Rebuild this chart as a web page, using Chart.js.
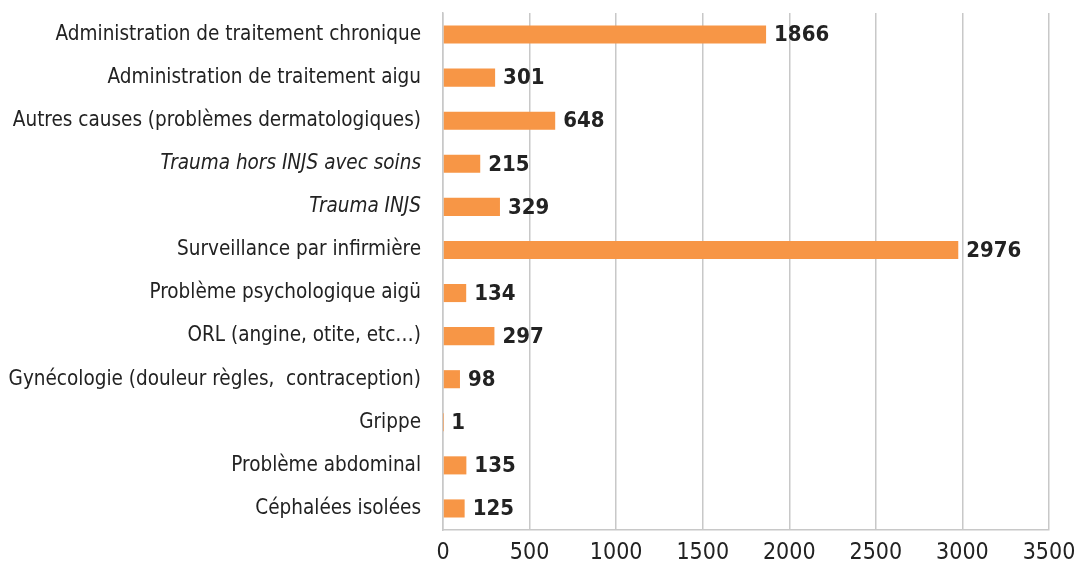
<!DOCTYPE html>
<html>
<head>
<meta charset="utf-8">
<script src="https://cdn.jsdelivr.net/npm/chart.js@4/dist/chart.umd.min.js"></script>
<style>
  html, body { margin: 0; padding: 0; background: #fff; }
  #wrap { width: 1080px; height: 565px; position: relative; }
</style>
</head>
<body>
<div id="wrap"><canvas id="bars"></canvas></div>
<script>
const categories = [
  'Administration de traitement chronique',
  'Administration de traitement aigu',
  'Autres causes (problèmes dermatologiques)',
  'Trauma hors INJS avec soins',
  'Trauma INJS',
  'Surveillance par infirmière',
  'Problème psychologique aigü',
  'ORL (angine, otite, etc…)',
  'Gynécologie (douleur règles,  contraception)',
  'Grippe',
  'Problème abdominal',
  'Céphalées isolées'
];
const counts = [1866, 301, 648, 215, 329, 2976, 134, 297, 98, 1, 135, 125];
const italicRows = [3, 4];
const xTicks = [0, 500, 1000, 1500, 2000, 2500, 3000, 3500];

const FONT = "'Liberation Sans Narrow', 'DejaVu Sans Condensed', sans-serif";

// value labels at the end of each bar
const valueLabels = {
  id: 'valueLabels',
  afterDatasetsDraw(chart) {
    const ctx = chart.ctx;
    const meta = chart.getDatasetMeta(0);
    ctx.save();
    ctx.font = 'bold 22px ' + FONT;
    ctx.fillStyle = '#222';
    ctx.textAlign = 'left';
    ctx.textBaseline = 'middle';
    meta.data.forEach((bar, i) => {
      ctx.fillText(String(counts[i]), bar.x + 8, bar.y + 1);
    });
    ctx.restore();
  }
};

var ctx = document.getElementById('bars').getContext('2d');
var chart = new Chart(ctx, {
  type: 'bar',
  data: {
    labels: categories,
    datasets: [{
      data: counts,
      backgroundColor: '#F79646',
      borderWidth: 0,
      barPercentage: 0.42,
      categoryPercentage: 1
    }]
  },
  options: {
    indexAxis: 'y',
    responsive: true,
    maintainAspectRatio: false,
    animation: false,
    layout: { padding: { top: 13, right: 6, left: 0, bottom: 0 } },
    plugins: { legend: { display: false }, tooltip: { enabled: false } },
    scales: {
      x: {
        min: 0, max: 3500,
        afterBuildTicks(scale) { scale.ticks = xTicks.map(v => ({ value: v })); },
        afterFit(scale) {
          scale.height = 35;
          scale.paddingLeft = 0;
          scale.paddingRight = 31;
        },
        grid: { color: '#c8c8c8', lineWidth: 1.5, drawTicks: false },
        border: { color: '#c8c8c8', width: 1.5 },
        ticks: {
          color: '#222', font: { family: FONT, size: 23, lineHeight: 1 }, padding: 12,
          callback: v => String(v)
        }
      },
      y: {
        afterFit(scale) {
          scale.width = 443;
          scale.paddingTop = 0;
          scale.paddingBottom = 0;
        },
        grid: { display: false, drawTicks: false },
        border: { color: '#c8c8c8', width: 1.5 },
        ticks: {
          color: '#222',
          padding: 22,
          font(c) {
            return { family: FONT, size: 20.5, style: italicRows.includes(c.index) ? 'italic' : 'normal' };
          }
        }
      }
    }
  },
  plugins: [valueLabels]
});
</script>
</body>
</html>
